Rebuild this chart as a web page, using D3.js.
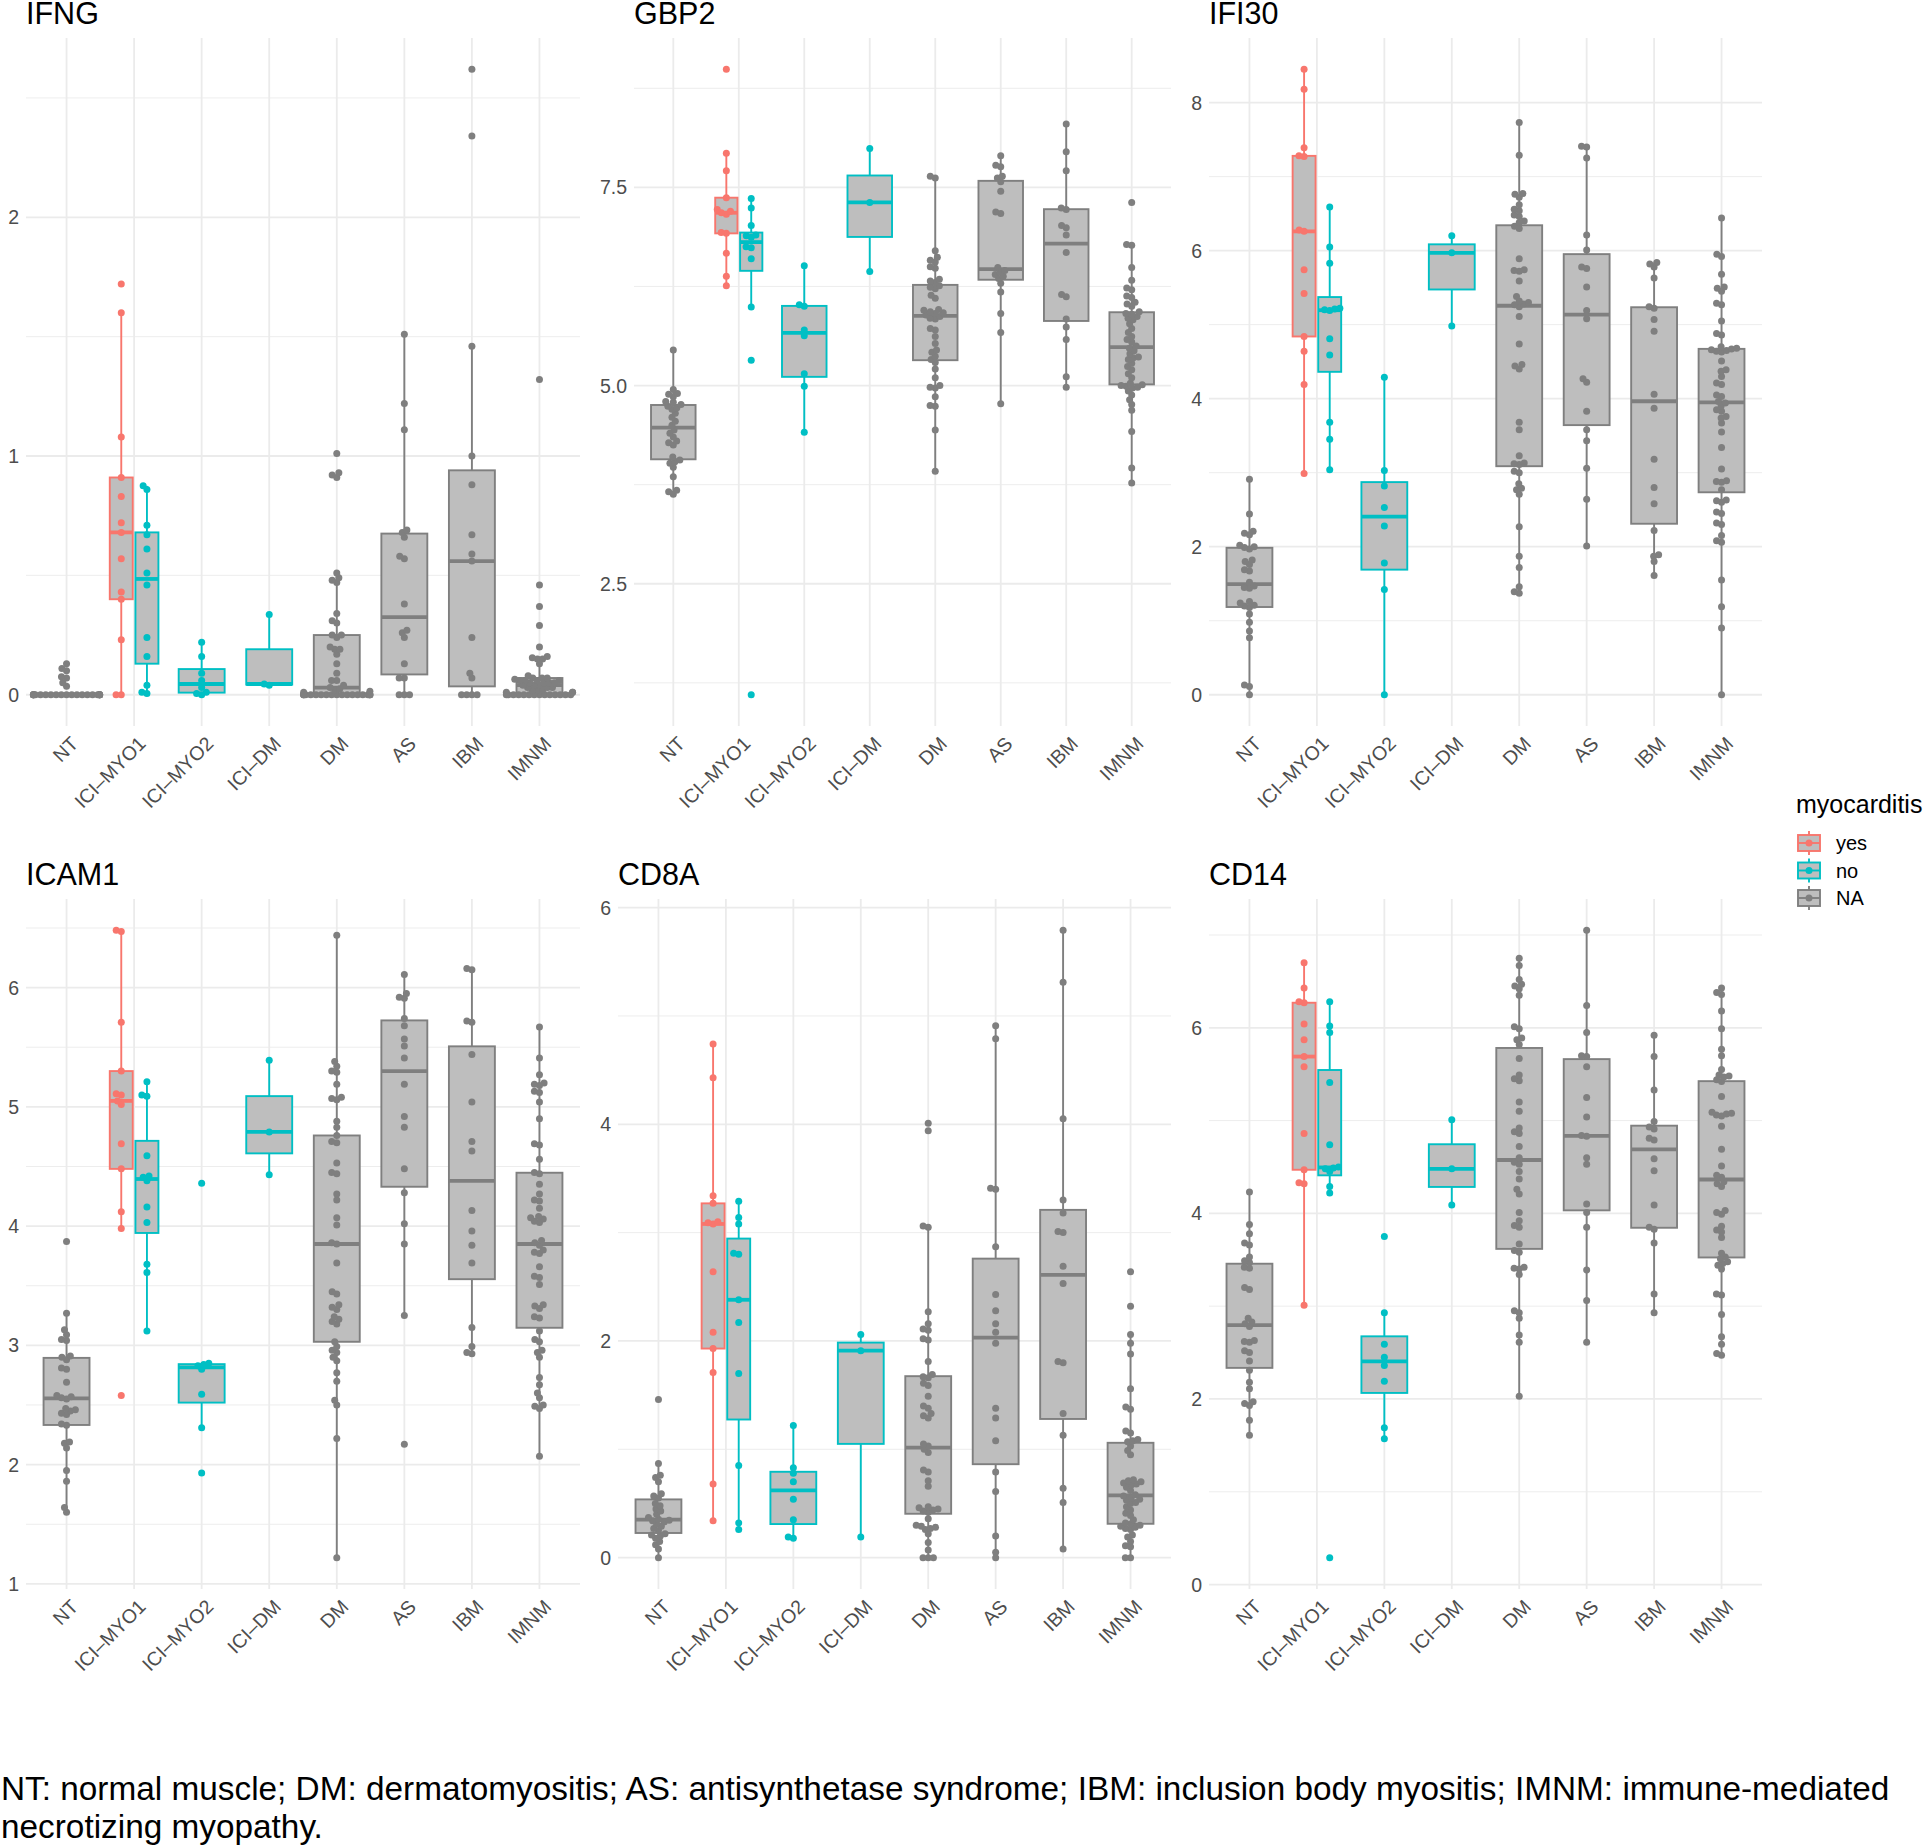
<!DOCTYPE html>
<html><head><meta charset="utf-8">
<script src="https://cdn.jsdelivr.net/npm/d3@7"></script>
<style>
body{margin:0;background:#fff}
svg{display:block}
text{font-family:"Liberation Sans",Arial,Helvetica,sans-serif}
</style>
</head><body>
<svg id="chart" width="1923" height="1845"></svg>
<script>
// ---------------- DATA ----------------
const categories = ["NT","ICI-MYO1","ICI-MYO2","ICI-DM","DM","AS","IBM","IMNM"];
const tickLabels = ["NT","ICI\u2013MYO1","ICI\u2013MYO2","ICI\u2013DM","DM","AS","IBM","IMNM"];
const genes = ["IFNG","GBP2","IFI30","ICAM1","CD8A","CD14"];
const myoLevels = ["yes","no","NA"];
const legendTitle = "myocarditis";
const captionLines = [
  "NT: normal muscle; DM: dermatomyositis; AS: antisynthetase syndrome; IBM: inclusion body myositis; IMNM: immune-mediated",
  "necrotizing myopathy."
];
// groups: key, category, myocarditis status
const groupKeys = ["NT","MYO1_yes","MYO1_no","MYO2","ICIDM","DM","AS","IBM","IMNM"];
const groupCats = ["NT","ICI-MYO1","ICI-MYO1","ICI-MYO2","ICI-DM","DM","AS","IBM","IMNM"];
const groupMyo  = ["NA","yes","no","no","no","NA","NA","NA","NA"];

const zeros = n => Array(n).fill(0);

const IFNG = {
  NT: [0.13,0.11,0.10,0.075,0.07,0.05,0.035].concat(zeros(23)),
  MYO1_yes: [1.72,1.60,1.08,0.91,0.83,0.72,0.68,0.57,0.43,0.40,0.23,0,0],
  MYO1_no: [0.875,0.86,0.71,0.67,0.61,0.51,0.46,0.24,0.16,0.04,0.01,0.005],
  MYO2: [0.22,0.16,0.09,0.06,0.03,0.01,0.005,0],
  ICIDM: [0.336,0.045,0.04],
  DM: [1.01,0.93,0.92,0.91,0.51,0.49,0.48,0.47,0.34,0.31,0.30,0.25,0.25,0.24,0.20,0.19,0.19,0.17,0.13,0.09,0.06,0.06,0.04,0.03,0.025,0.02,0.015,0.01].concat(zeros(19)),
  AS: [1.51,1.22,1.11,0.69,0.68,0.66,0.58,0.57,0.38,0.27,0.26,0.24,0.13,0.07,0.07,0,0,0],
  IBM: [2.62,2.34,1.46,1.00,0.88,0.67,0.59,0.56,0.24,0.09,0.07,0,0,0,0],
  IMNM: [1.32,0.46,0.37,0.29,0.20,0.16,0.155,0.15,0.15,0.13,0.08,0.07,0.07,0.07,0.065,0.06,0.06,0.06,0.06,0.05,0.05,0.05,0.05,0.04,0.04,0.04,0.03,0.03,0.03,0.02,0.02,0.02,0.01,0.01,0.01].concat(zeros(14))
};
const GBP2 = {
  NT: [5.45,4.95,4.90,4.89,4.86,4.80,4.79,4.76,4.74,4.72,4.70,4.65,4.60,4.55,4.50,4.44,4.40,4.35,4.30,4.28,4.25,4.10,4.06,4.04,4.02,3.97,3.85,3.68,3.66,3.63],
  MYO1_yes: [8.99,7.93,7.71,7.37,7.22,7.20,7.18,7.16,6.93,6.92,6.67,6.38,6.26],
  MYO1_no: [7.36,7.24,7.02,6.90,6.89,6.87,6.75,6.74,6.60,5.99,5.32,1.10],
  MYO2: [6.51,6.02,6.00,5.70,5.63,5.15,4.99,4.41],
  ICIDM: [7.99,7.31,6.44],
  DM: [7.64,7.62,6.70,6.62,6.58,6.56,6.50,6.48,6.34,6.32,6.30,6.26,6.24,6.22,6.14,6.10,5.96,5.95,5.93,5.92,5.91,5.89,5.87,5.85,5.84,5.72,5.70,5.62,5.53,5.45,5.42,5.37,5.33,5.29,5.21,5.10,5.00,4.98,4.97,4.86,4.75,4.74,4.44,3.92],
  AS: [7.90,7.78,7.76,7.64,7.62,7.57,7.45,7.19,7.17,6.49,6.45,6.43,6.40,6.38,6.35,6.29,6.18,5.91,5.67,4.77],
  IBM: [8.30,7.95,7.71,7.24,7.22,7.02,6.99,6.90,6.68,6.15,6.12,5.84,5.74,5.58,5.11,4.98],
  IMNM: [7.31,6.78,6.77,6.49,6.33,6.23,6.21,6.13,6.11,6.05,6.03,6.00,5.93,5.91,5.90,5.87,5.85,5.83,5.78,5.72,5.67,5.62,5.58,5.55,5.50,5.47,5.44,5.40,5.36,5.35,5.33,5.28,5.24,5.20,5.15,5.10,5.03,5.01,5.00,4.99,4.98,4.97,4.93,4.88,4.82,4.76,4.69,4.42,3.96,3.77]
};
const IFI30 = {
  NT: [2.91,2.44,2.21,2.18,2.16,2.02,2.00,1.99,1.97,1.82,1.80,1.76,1.69,1.67,1.52,1.47,1.45,1.44,1.26,1.24,1.21,1.20,1.18,1.09,0.98,0.86,0.77,0.13,0.11,0.0],
  MYO1_yes: [8.45,8.18,7.39,7.28,7.27,6.28,6.26,5.74,5.42,4.84,4.64,4.19,2.99],
  MYO1_no: [6.59,6.05,5.83,5.22,5.21,5.20,5.19,4.81,4.59,3.68,3.45,3.04],
  MYO2: [4.29,3.03,2.82,2.53,2.28,1.78,1.42,0],
  ICIDM: [6.20,5.97,4.98],
  DM: [7.73,7.29,6.77,6.76,6.72,6.62,6.56,6.54,6.48,6.46,6.40,6.38,6.33,6.30,5.89,5.74,5.73,5.72,5.59,5.38,5.32,5.30,5.28,5.27,5.24,5.11,4.74,4.46,4.44,4.40,3.68,3.58,3.23,3.13,3.12,3.11,3.02,3.00,2.85,2.79,2.77,2.71,2.27,1.87,1.72,1.46,1.39,1.37],
  AS: [7.41,7.40,7.25,6.21,6.01,5.78,5.76,5.51,5.19,5.08,4.27,4.22,3.83,3.58,3.43,3.06,2.64,2.01],
  IBM: [5.84,5.82,5.78,5.63,5.24,5.22,5.07,4.91,4.06,3.87,3.18,2.80,2.58,2.22,1.89,1.87,1.80,1.61],
  IMNM: [6.44,5.95,5.92,5.68,5.51,5.49,5.45,5.29,5.27,5.05,4.88,4.86,4.70,4.68,4.67,4.66,4.65,4.64,4.63,4.51,4.39,4.37,4.30,4.21,4.19,4.05,4.03,3.96,3.94,3.90,3.85,3.83,3.76,3.74,3.67,3.55,3.34,3.05,2.89,2.88,2.87,2.77,2.63,2.62,2.60,2.47,2.45,2.32,2.30,2.15,2.08,2.06,1.55,1.19,0.90,0]
};
const ICAM1 = {
  NT: [3.87,3.27,3.13,3.09,3.05,3.04,2.91,2.90,2.88,2.81,2.80,2.69,2.58,2.57,2.56,2.55,2.47,2.46,2.45,2.43,2.42,2.34,2.33,2.19,2.18,2.14,1.95,1.86,1.64,1.60],
  MYO1_yes: [6.48,6.47,5.71,5.30,5.11,5.10,5.05,5.02,4.69,4.48,4.12,3.98,2.58],
  MYO1_no: [5.21,5.10,5.09,4.59,4.42,4.41,4.38,4.16,4.03,3.68,3.61,3.12],
  MYO2: [4.36,2.85,2.84,2.83,2.80,2.59,2.31,1.93],
  ICIDM: [5.39,4.79,4.43],
  DM: [6.44,5.38,5.34,5.30,5.29,5.19,5.08,5.07,5.06,4.88,4.83,4.76,4.71,4.70,4.53,4.45,4.44,4.27,4.22,4.07,4.01,3.86,3.85,3.69,3.45,3.43,3.34,3.32,3.30,3.24,3.22,3.20,3.18,3.03,2.99,2.96,2.94,2.90,2.87,2.77,2.70,2.54,2.50,2.22,1.22],
  AS: [6.11,5.95,5.92,5.91,5.74,5.68,5.57,5.51,5.41,5.19,4.92,4.83,4.48,4.28,4.02,3.85,3.25,2.17],
  IBM: [6.16,6.15,5.72,5.71,5.44,5.04,4.71,4.63,4.13,3.96,3.84,3.69,3.15,2.99,2.94,2.93],
  IMNM: [5.67,5.41,5.27,5.20,5.19,5.18,5.13,5.12,5.04,4.90,4.69,4.68,4.56,4.45,4.44,4.35,4.27,4.22,4.21,4.15,4.08,4.07,4.06,4.04,4.03,3.88,3.86,3.84,3.80,3.78,3.77,3.66,3.58,3.57,3.51,3.34,3.33,3.31,3.24,3.23,3.12,3.05,3.03,2.96,2.94,2.90,2.73,2.67,2.60,2.56,2.50,2.49,2.47,2.07]
};
const CD8A = {
  NT: [1.46,0.87,0.76,0.74,0.70,0.59,0.57,0.55,0.50,0.48,0.45,0.43,0.40,0.37,0.355,0.345,0.34,0.33,0.31,0.29,0.27,0.25,0.22,0.21,0.20,0.18,0.15,0.12,0.08,0.0],
  MYO1_yes: [4.74,4.43,3.34,3.27,3.10,3.09,3.08,2.64,2.08,1.93,1.71,0.68,0.34],
  MYO1_no: [3.29,3.14,3.08,2.81,2.80,2.38,2.17,1.70,0.85,0.32,0.26],
  MYO2: [1.22,0.83,0.78,0.70,0.54,0.35,0.19,0.18],
  ICIDM: [2.06,1.91,0.19],
  DM: [4.01,3.94,3.06,3.05,2.27,2.16,2.11,2.10,2.02,2.01,1.81,1.69,1.67,1.66,1.61,1.59,1.49,1.40,1.38,1.33,1.31,1.29,1.05,1.03,1.00,0.97,0.81,0.79,0.71,0.66,0.47,0.46,0.45,0.44,0.43,0.42,0.36,0.30,0.29,0.28,0.27,0.26,0.22,0.14,0.07,0,0,0],
  AS: [4.91,4.79,3.41,3.40,2.87,2.43,2.28,2.16,2.08,1.98,1.38,1.29,1.08,0.79,0.61,0.20,0.05,0],
  IBM: [5.79,5.31,4.05,3.30,3.18,3.01,3.00,2.69,2.53,1.81,1.80,1.33,1.13,0.64,0.51,0.08],
  IMNM: [2.64,2.32,2.06,1.98,1.88,1.56,1.39,1.37,1.17,1.15,1.09,1.08,1.07,1.03,0.99,0.95,0.72,0.71,0.70,0.69,0.68,0.67,0.65,0.62,0.58,0.57,0.55,0.54,0.53,0.51,0.50,0.47,0.44,0.41,0.39,0.35,0.32,0.31,0.30,0.29,0.28,0.27,0.26,0.21,0.19,0.15,0.11,0.10,0,0]
};
const CD14 = {
  NT: [4.23,3.88,3.78,3.68,3.66,3.53,3.49,3.47,3.42,3.41,3.20,3.18,2.87,2.83,2.81,2.78,2.63,2.62,2.61,2.52,2.50,2.41,2.31,2.18,2.11,1.97,1.95,1.93,1.77,1.61],
  MYO1_yes: [6.70,6.43,6.28,6.27,6.04,5.87,5.69,5.58,4.86,4.47,4.33,4.32,3.01],
  MYO1_no: [6.28,6.02,5.95,5.41,4.74,4.50,4.49,4.48,4.45,4.29,4.22,0.29],
  MYO2: [3.75,2.93,2.59,2.45,2.36,2.19,1.69,1.57],
  ICIDM: [5.01,4.48,4.09],
  DM: [6.75,6.67,6.52,6.47,6.45,6.42,6.35,6.01,5.99,5.89,5.87,5.82,5.67,5.49,5.45,5.43,5.20,5.10,4.92,4.88,4.86,4.72,4.60,4.55,4.53,4.45,4.37,4.26,4.21,4.01,3.92,3.87,3.85,3.67,3.60,3.58,3.42,3.41,3.40,3.34,2.95,2.93,2.87,2.69,2.61,2.03],
  AS: [7.05,6.24,5.95,5.70,5.69,5.58,5.25,5.04,4.84,4.83,4.60,4.53,4.10,4.01,3.85,3.39,3.06,2.61],
  IBM: [5.92,5.69,5.33,4.99,4.93,4.91,4.81,4.79,4.59,4.46,4.09,3.85,3.83,3.68,3.13,2.93],
  IMNM: [6.43,6.38,6.36,6.18,5.99,5.77,5.70,5.55,5.49,5.48,5.47,5.44,5.42,5.26,5.09,5.08,5.07,5.06,5.05,4.94,4.69,4.51,4.41,4.39,4.34,4.32,4.29,4.03,4.01,3.99,3.86,3.82,3.80,3.74,3.57,3.53,3.51,3.48,3.46,3.44,3.40,3.13,3.12,2.91,2.67,2.59,2.49,2.47]
};
const geneData = {IFNG, GBP2, IFI30, ICAM1, CD8A, CD14};

const yTicksIFNG = [0,1,2];
const yTicksGBP2 = [2.5,5.0,7.5];
const yTicksIFI30 = [0,2,4,6,8];
const yTicksICAM1 = [1,2,3,4,5,6];
const yTicksCD8A = [0,2,4,6];
const yTicksCD14 = [0,2,4,6];

// ---------------- STYLE / LAYOUT ----------------
const colors = {yes:"#F8766D", no:"#00BFC4", NA:"#7F7F7F"};
const boxFill = "#BEBEBE";
const gridCol = "#EBEBEB";
const axisTextCol = "#4D4D4D";
const axisFont = 19.5;
const titleFont = 30.5;

const panels = [
  {gene:"IFNG",  ticks:yTicksIFNG,  fmt:d3.format("d"),   x0:26,   x1:580,  y0:38,  y1:726},
  {gene:"GBP2",  ticks:yTicksGBP2,  fmt:d3.format(".1f"), x0:634,  x1:1171, y0:38,  y1:726},
  {gene:"IFI30", ticks:yTicksIFI30, fmt:d3.format("d"),   x0:1209, x1:1762, y0:38,  y1:726},
  {gene:"ICAM1", ticks:yTicksICAM1, fmt:d3.format("d"),   x0:26,   x1:580,  y0:899, y1:1589},
  {gene:"CD8A",  ticks:yTicksCD8A,  fmt:d3.format("d"),   x0:618,  x1:1171, y0:899, y1:1589},
  {gene:"CD14",  ticks:yTicksCD14,  fmt:d3.format("d"),   x0:1209, x1:1762, y0:899, y1:1589}
];

const svg = d3.select("#chart");
svg.append("rect").attr("width",1923).attr("height",1845).attr("fill","#fff");

function boxStats(vals){
  const s = vals.slice().sort(d3.ascending);
  const q1 = d3.quantile(s,0.25), med = d3.quantile(s,0.5), q3 = d3.quantile(s,0.75);
  const iqr = q3-q1;
  const lo = d3.min(s.filter(v=>v>=q1-1.5*iqr));
  const hi = d3.max(s.filter(v=>v<=q3+1.5*iqr));
  return {q1,med,q3,lo,hi};
}

function swarm(vals, y, D, maxOff){
  const pts = vals.map(v=>({v, y:y(v), x:0})).sort((a,b)=>b.y-a.y);
  const placed = [];
  for(const p of pts){
    const cands=[0];
    for(const q of placed){
      const dy=Math.abs(q.y-p.y);
      if(dy<D){const dx=Math.sqrt(D*D-dy*dy); cands.push(q.x+dx, q.x-dx);}
    }
    cands.sort((a,b)=>Math.abs(a)-Math.abs(b) || a-b);
    let best = cands.find(c=>placed.every(q=>(q.x-c)*(q.x-c)+(q.y-p.y)*(q.y-p.y) >= D*D-1e-6));
    if(best===undefined) best=0;
    p.x=best; placed.push(p);
  }
  pts.forEach(p=>{p.x=Math.max(-maxOff,Math.min(maxOff,p.x));});
  return pts;
}

panels.forEach(P=>{
  const data = geneData[P.gene];
  const all = groupKeys.flatMap(k=>data[k]);
  const mn = d3.min(all), mx = d3.max(all), pad = (mx-mn)*0.05;
  const y = d3.scaleLinear().domain([mn-pad, mx+pad]).range([P.y1, P.y0]);
  const x = d3.scalePoint().domain(categories).range([P.x0, P.x1]).padding(0.6);
  const step = x.step();
  const g = svg.append("g");

  // minor grid
  const tstep = P.ticks[1]-P.ticks[0];
  const minors = [];
  for(let t=P.ticks[0]-tstep/2; t<=mx+pad; t+=tstep){ if(t>=mn-pad) minors.push(t); }
  g.selectAll(".minor").data(minors).enter().append("line")
    .attr("x1",P.x0).attr("x2",P.x1).attr("y1",d=>y(d)).attr("y2",d=>y(d))
    .attr("stroke",gridCol).attr("stroke-width",0.9);
  // major grid
  g.selectAll(".major").data(P.ticks).enter().append("line")
    .attr("x1",P.x0).attr("x2",P.x1).attr("y1",d=>y(d)).attr("y2",d=>y(d))
    .attr("stroke",gridCol).attr("stroke-width",1.8);
  g.selectAll(".vgrid").data(categories).enter().append("line")
    .attr("x1",d=>x(d)).attr("x2",d=>x(d)).attr("y1",P.y0).attr("y2",P.y1)
    .attr("stroke",gridCol).attr("stroke-width",1.8);

  // y axis labels
  g.selectAll(".ylab").data(P.ticks).enter().append("text")
    .attr("x",P.x0-7).attr("y",d=>y(d)).attr("dy","0.36em")
    .attr("text-anchor","end").attr("font-size",axisFont).attr("fill",axisTextCol)
    .text(d=>P.fmt(d));
  // x axis labels
  g.selectAll(".xlab").data(categories).enter().append("text")
    .attr("transform",(d)=>`translate(${x(d)+3},${P.y1+9}) rotate(-45)`)
    .attr("dy","0.72em").attr("text-anchor","end").attr("font-size",axisFont).attr("fill",axisTextCol)
    .text((d,i)=>tickLabels[i]);
  // title
  g.append("text").attr("x",P.x0).attr("y",P.y0-14).attr("font-size",titleFont).attr("fill","#000").text(P.gene);

  // boxes
  groupKeys.forEach((k,i)=>{
    const cat = groupCats[i], myo = groupMyo[i];
    const dodged = cat==="ICI-MYO1";
    const cx = x(cat) + (dodged ? (myo==="yes"?-1:1)*0.19*step : 0);
    const bw = (dodged?0.34:0.68)*step;
    const col = colors[myo];
    const st = boxStats(data[k]);
    const bg = g.append("g");
    bg.append("line").attr("x1",cx).attr("x2",cx).attr("y1",y(st.q3)).attr("y2",y(st.hi))
      .attr("stroke",col).attr("stroke-width",1.9);
    bg.append("line").attr("x1",cx).attr("x2",cx).attr("y1",y(st.q1)).attr("y2",y(st.lo))
      .attr("stroke",col).attr("stroke-width",1.9);
    bg.append("rect").attr("x",cx-bw/2).attr("width",bw)
      .attr("y",y(st.q3)).attr("height",Math.max(0,y(st.q1)-y(st.q3)))
      .attr("fill",boxFill).attr("stroke",col).attr("stroke-width",1.9);
    bg.append("line").attr("x1",cx-bw/2).attr("x2",cx+bw/2).attr("y1",y(st.med)).attr("y2",y(st.med))
      .attr("stroke",col).attr("stroke-width",3.8);
  });
  // points
  groupKeys.forEach((k,i)=>{
    const cat = groupCats[i], myo = groupMyo[i];
    const dodged = cat==="ICI-MYO1";
    const cx = x(cat) + (dodged ? (myo==="yes"?-1:1)*0.19*step : 0);
    const pts = swarm(data[k], y, 5.2, (dodged?0.17:0.49)*step);
    g.append("g").selectAll("circle").data(pts).enter().append("circle")
      .attr("cx",d=>cx+d.x).attr("cy",d=>d.y).attr("r",3.5).attr("fill",colors[myo]);
  });
});

// legend
const lg = svg.append("g");
lg.append("text").attr("x",1796).attr("y",813).attr("font-size",25).attr("fill","#000").text(legendTitle);
myoLevels.forEach((m,i)=>{
  const cy = 843 + i*27.5, cx = 1809;
  const col = colors[m];
  lg.append("line").attr("x1",cx).attr("x2",cx).attr("y1",cy-12).attr("y2",cy+12).attr("stroke",col).attr("stroke-width",1.9);
  lg.append("rect").attr("x",cx-11).attr("y",cy-8).attr("width",22).attr("height",16)
    .attr("fill",boxFill).attr("stroke",col).attr("stroke-width",1.9);
  lg.append("line").attr("x1",cx-11).attr("x2",cx+11).attr("y1",cy).attr("y2",cy).attr("stroke",col).attr("stroke-width",1.9);
  lg.append("circle").attr("cx",cx).attr("cy",cy).attr("r",3.5).attr("fill",col);
  lg.append("text").attr("x",1836).attr("y",cy).attr("dy","0.36em").attr("font-size",20).attr("fill","#000").text(m);
});

// caption
const cap = svg.append("g");
const t1 = cap.append("text").attr("x",1).attr("y",1800).attr("font-size",29).attr("fill","#000").text(captionLines[0]);
const w = t1.node().getComputedTextLength();
const fs = 29*1889/w;
t1.attr("font-size",fs);
cap.append("text").attr("x",1).attr("y",1838).attr("font-size",fs).attr("fill","#000").text(captionLines[1]);
</script>
</body></html>
